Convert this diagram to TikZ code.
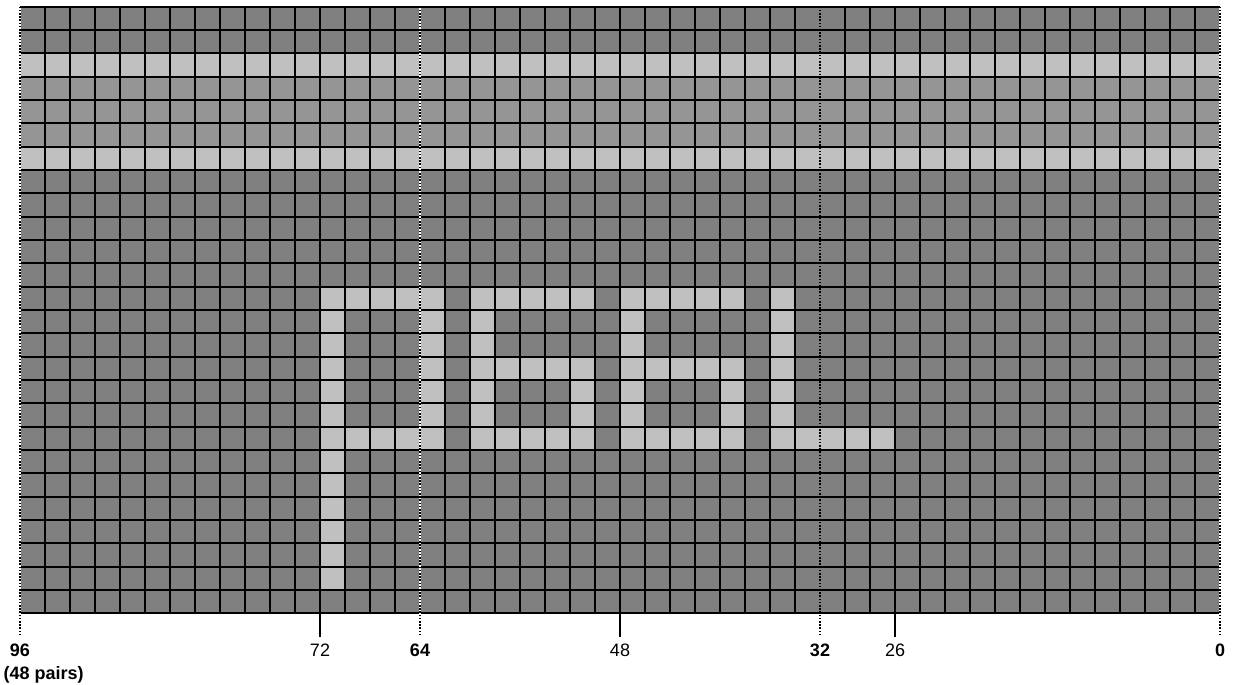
\documentclass[tikz,border=0pt]{standalone}
\usepackage{fontspec}
\setmainfont{Liberation Sans}

\definecolor{cellDark}{HTML}{808080}
\definecolor{cellMid}{HTML}{959595}
\definecolor{cellLit}{HTML}{C0C0C0}

\begin{document}
\begin{tikzpicture}[
    x=25pt, y=-23.3333pt,
    gridline/.style={black, line width=2pt},
    dotline/.style={black, line width=1.6pt, dash pattern=on 1.6pt off 1.6pt},
    gapline/.style={white, line width=1.6pt},
    lbl/.style={font=\fontsize{18}{22}\selectfont, anchor=base, inner sep=0pt},
    major/.style={lbl, font=\fontsize{18}{22}\selectfont\bfseries}
]
    \useasboundingbox (-0.8,-0.2857) rectangle (48.56,29.071);

    % --- Row bands ---
    \fill[cellDark] (0,0) rectangle (48,26);
    \fill[cellMid] (0,3) rectangle (48,6);
    \fill[cellLit] (0,2) rectangle (48,3);
    \fill[cellLit] (0,6) rectangle (48,7);

    % --- Lit pattern ---
    % first box with its tail
    \fill[cellLit] (12,12) rectangle (17,13);
    \fill[cellLit] (12,18) rectangle (17,19);
    \fill[cellLit] (12,13) rectangle (13,25);
    \fill[cellLit] (16,13) rectangle (17,18);

    % the two middle shapes
    \foreach \c in {18,24} {
        \fill[cellLit] (\c,12) rectangle ++(5,1);
        \fill[cellLit] (\c,15) rectangle ++(5,1);
        \fill[cellLit] (\c,18) rectangle ++(5,1);
        \fill[cellLit] (\c,12) rectangle ++(1,7);
        \fill[cellLit] (\c+4,16) rectangle ++(1,2);
    }

    % last shape
    \fill[cellLit] (30,12) rectangle (31,19);
    \fill[cellLit] (30,18) rectangle (35,19);

    % --- Grid ---
    \foreach \r in {0,...,26}
        \draw[gridline] (0,\r) -- (48,\r);
    \foreach \c in {1,...,47} {
        \ifnum\c=16 \else\ifnum\c=32 \else
            \draw[gridline] (\c,0) -- (\c,26);
        \fi\fi
    }

    % --- Markers below ---
    \foreach \c in {12,24,35}
        \draw[gridline] (\c,26) -- (\c,27);
    \foreach \c in {0,16,48}
        \draw[gapline] (\c,0) -- (\c,27);
    \foreach \c in {0,16,32,48}
        \draw[dotline] (\c,0) -- (\c,27);

    % --- Labels ---
    \node[major] (n96) at (0,27.87) {96};
    \node[major, anchor=base west] (pairs) at (-0.66,28.82) {(48 pairs)};
    \node[lbl] (n72) at (12,27.87) {72};
    \node[major] (n64) at (16,27.87) {64};
    \node[lbl] (n48) at (24,27.87) {48};
    \node[major] (n32) at (32,27.87) {32};
    \node[lbl] (n26) at (35,27.87) {26};
    \node[major] (n0) at (48,27.87) {0};

\end{tikzpicture}
\end{document}
